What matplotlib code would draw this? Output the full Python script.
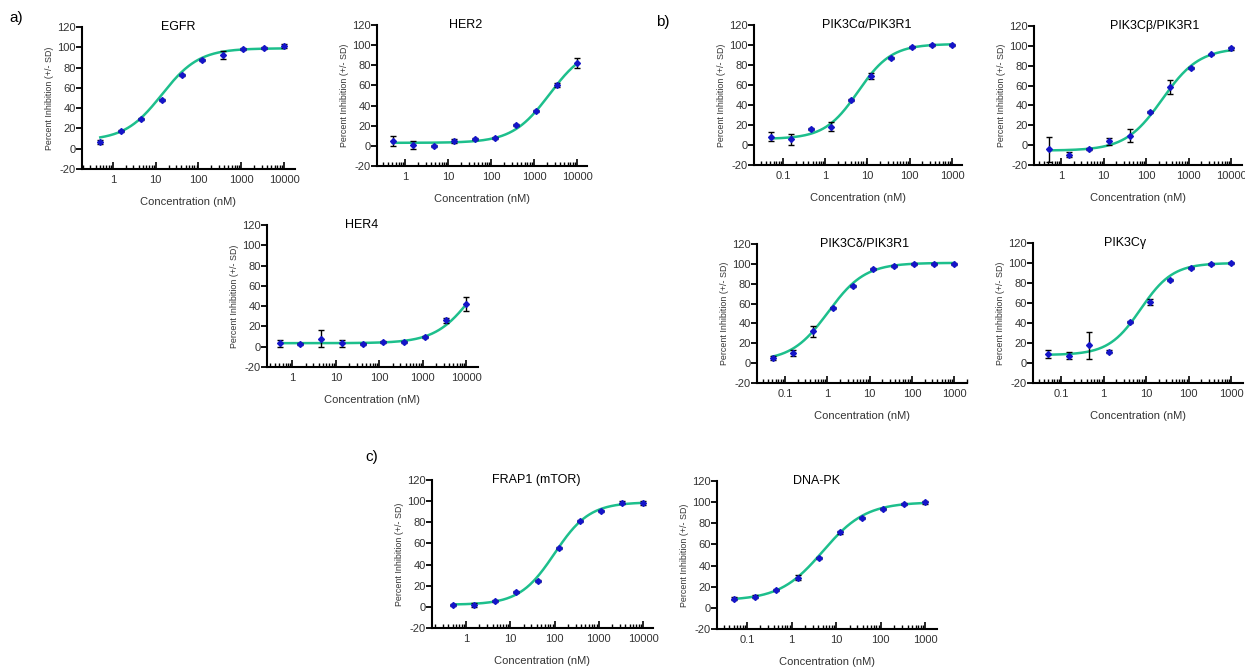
import numpy as np
import matplotlib
matplotlib.use('Agg')
import matplotlib.pyplot as plt
from matplotlib.ticker import FixedLocator, LogLocator, NullFormatter

plt.rcParams['font.family'] = ['Liberation Sans', 'DejaVu Sans']
plt.rcParams['axes.unicode_minus'] = False

# concentrations (nM), 3-fold dilution series
conc_hi = [0.508, 1.52, 4.57, 13.7, 41.2, 123, 370, 1111, 3333, 10000]
conc_lo = [0.0508, 0.152, 0.457, 1.37, 4.12, 12.3, 37.0, 111, 333, 1000]

ticks_hi = [1, 10, 100, 1000, 10000]
ticks_lo = [0.1, 1, 10, 100, 1000]

# percent inhibition (mean) and SD
egfr = [6.6, 17, 29, 48, 73, 87, 92, 98, 99, 101]
egfr_sd = [2, 1, 1, 1, 1, 1, 4, 1, 1, 2]
her2 = [5, 1.3, 0, 4.6, 7, 8, 21, 35, 60, 82]
her2_sd = [5, 4, 1, 2, 1, 1, 1, 1, 2, 5]
her4 = [3.3, 2.3, 8, 3.3, 2.6, 4.3, 5, 9.6, 26, 42]
her4_sd = [3.5, 1, 8, 3.5, 1, 1, 1, 1, 2.5, 7]
pik_a = [8.3, 5.7, 15.7, 18.3, 44.7, 69, 87, 97.7, 99.7, 100]
pik_a_sd = [4.5, 5.5, 1, 4.5, 1, 3, 1, 1, 1, 1]
pik_b = [-4, -9.7, -4.3, 3.7, 9.3, 33, 58.7, 77.3, 91.3, 97.7]
pik_b_sd = [12.5, 2.5, 1, 3.5, 6.5, 1, 7, 1, 1, 1.5]
pik_d = [5.3, 10, 32, 56, 78, 94.4, 98.3, 100, 100, 100]
pik_d_sd = [2, 3, 5.5, 1, 1, 1, 1, 1, 1, 1]
pik_g = [9, 7.3, 17.7, 11.3, 41, 61, 83, 94.7, 98.7, 100]
pik_g_sd = [4, 3.5, 13.5, 1.5, 1, 3, 1, 1, 1, 1]
frap1 = [1.9, 1.9, 5.3, 13.8, 24.8, 56, 81, 91, 98.7, 98.4]
frap1_sd = [1, 2, 1, 1, 1, 1, 1, 1, 1, 2]
dnapk = [8.8, 10.4, 17, 28.4, 47.3, 71.3, 85, 93.7, 98.4, 99.7]
dnapk_sd = [1, 1.5, 1, 2.5, 1, 1, 1, 1, 1, 1]

# four-parameter logistic fits: bottom, top, IC50, Hill slope
fit_egfr = (8, 99, 14, 1.0)
fit_her2 = (3, 100, 2300, 1.0)
fit_her4 = (3.5, 100, 15000, 1.0)
fit_pik_a = (6, 101, 6, 1.1)
fit_pik_b = (-5.5, 98, 240, 1.0)
fit_pik_d = (2, 101, 1.05, 1.0)
fit_pik_g = (8, 100, 7.5, 1.15)
fit_frap1 = (2, 99, 100, 1.1)
fit_dnapk = (7, 100, 5, 0.9)

W, H = 1245, 667
# name, data, sd, fit, conc, ticks, xlim, box (left, top, right, bottom px), title x
panels = [
    ('EGFR', egfr, egfr_sd, fit_egfr, conc_hi, ticks_hi, (0.19, 18000), (82, 27, 295, 169), 0.45),
    ('HER2', her2, her2_sd, fit_her2, conc_hi, ticks_hi, (0.22, 17000), (377, 25, 587, 166), 0.42),
    ('HER4', her4, her4_sd, fit_her4, conc_hi, ticks_hi, (0.26, 18500), (267, 225, 478, 367), 0.45),
    ('PIK3C\u03b1/PIK3R1', pik_a, pik_a_sd, fit_pik_a, conc_lo, ticks_lo, (0.0206, 1730), (754, 25, 962, 165), 0.54),
    ('PIK3C\u03b2/PIK3R1', pik_b, pik_b_sd, fit_pik_b, conc_hi, ticks_hi, (0.23, 18000), (1034, 26, 1242, 165), 0.58),
    ('PIK3C\u03b4/PIK3R1', pik_d, pik_d_sd, fit_pik_d, conc_lo, ticks_lo, (0.0218, 2000), (757, 244, 967, 383), 0.51),
    ('PIK3C\u03b3', pik_g, pik_g_sd, fit_pik_g, conc_lo, ticks_lo, (0.022, 1900), (1033, 243, 1243, 383), 0.44),
    ('FRAP1 (mTOR)', frap1, frap1_sd, fit_frap1, conc_hi, ticks_hi, (0.17, 16800), (432, 480, 653, 628), 0.47),
    ('DNA-PK', dnapk, dnapk_sd, fit_dnapk, conc_lo, ticks_lo, (0.0212, 1820), (717, 481, 937, 629), 0.45),
]

fig = plt.figure(figsize=(W / 100, H / 100), dpi=100)

for name, vals, sd, fit, conc, ticks, xlim, box, tx in panels:
    l, t, r, b = box
    ax = fig.add_axes([l / W, 1 - b / H, (r - l) / W, (b - t) / H])
    bottom, top, ic50, hill = fit
    xx = np.logspace(np.log10(conc[0]), np.log10(conc[-1]), 300)
    yy = bottom + (top - bottom) / (1 + (ic50 / xx) ** hill)
    ax.plot(xx, yy, color='#1dbf8c', lw=1.8, zorder=2)
    ax.errorbar(conc, vals, yerr=sd, fmt='none', ecolor='black',
                elinewidth=1, capsize=2.2, capthick=1, zorder=3)
    ax.plot(conc, vals, 'D', color='#1515c8', ms=3.0, zorder=4)

    ax.set_xscale('log')
    ax.set_xlim(*xlim)
    ax.set_ylim(-20, 120)
    ax.set_yticks(range(-20, 121, 20))
    ax.xaxis.set_major_locator(FixedLocator(ticks))
    ax.set_xticklabels([('%g' % v) for v in ticks])
    ax.xaxis.set_minor_locator(LogLocator(base=10, subs=range(2, 10), numticks=20))
    ax.xaxis.set_minor_formatter(NullFormatter())

    for s in ['top', 'right']:
        ax.spines[s].set_visible(False)
    for s in ['left', 'bottom']:
        ax.spines[s].set_linewidth(1.5)

    ax.tick_params(axis='y', direction='out', length=4, width=1.3,
                   labelsize=8, labelcolor='#333333', pad=0.5)
    ax.tick_params(axis='x', which='major', direction='in', length=5, width=1.2,
                   labelsize=8, labelcolor='#333333', pad=4)
    ax.tick_params(axis='x', which='minor', direction='in', length=3, width=1)

    ax.set_ylabel('Percent Inhibition (+/- SD)', fontsize=6.4, color='#333333', labelpad=2)
    ax.set_xlabel('Concentration (nM)', fontsize=8, color='#333333', labelpad=9)
    ax.text(tx, 1.0, name, transform=ax.transAxes, ha='center', va='center', fontsize=9)

fig.text(16 / W, 1 - 18 / H, 'a)', fontsize=11, ha='center', va='center')
fig.text(663 / W, 1 - 22 / H, 'b)', fontsize=11, ha='center', va='center')
fig.text(372 / W, 1 - 457 / H, 'c)', fontsize=11, ha='center', va='center')

fig.savefig('out.png', dpi=100)
